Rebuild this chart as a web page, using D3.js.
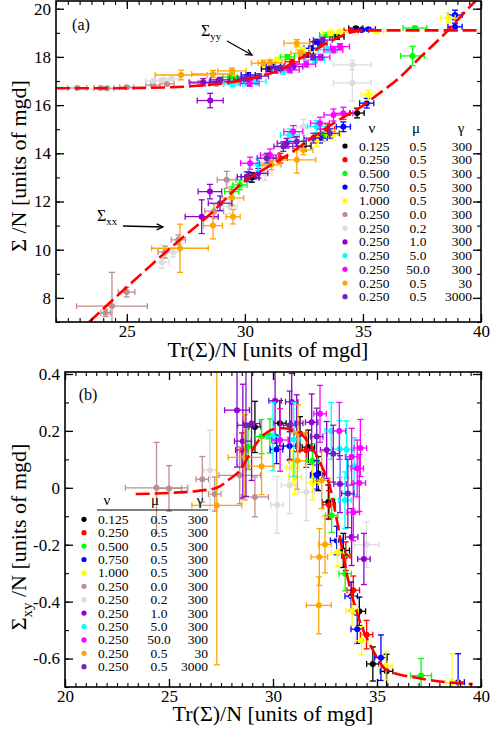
<!DOCTYPE html>
<html>
<head>
<meta charset="utf-8">
<script src="https://cdn.jsdelivr.net/npm/d3@7"></script>
<style>
body { margin: 0; background: #fff; }
text { font-family: "Liberation Serif", "DejaVu Serif", serif; }
</style>
</head>
<body>
<svg id="chart" width="491" height="733"></svg>
<script>
// legend columns, one entry per run
var nuLabels = ["0.125","0.250","0.500","0.750","1.000","0.250","0.250","0.250","0.250","0.250","0.250","0.250"];
var muLabels = ["0.5","0.5","0.5","0.5","0.5","0.0","0.2","1.0","5.0","50.0","0.5","0.5"];
var gammaLabels = ["300","300","300","300","300","300","300","300","300","300","30","3000"];
var seriesColors = ["#000000","#ff0000","#00ff00","#0000ff","#ffff00","#bc8f8f","#dcdcdc","#9400d3","#00ffff","#ff00ff","#ffa500","#7221bc"];

// theory curves [Tr/N, value]
var yyCurve = [[22,16.7],[24,16.7],[26,16.72],[28,16.8],[29,16.9],[30,17.05],[31,17.3],[31.5,17.46],[32,17.75],[32.6,18.08],[33,18.3],[33.5,18.58],[34,18.83],[34.5,19.02],[35,19.09],[36,19.1],[40,19.1]];
var xxCurve = [[23.4,7.0],[25,8.45],[27,10.2],[28.5,11.45],[30,12.85],[31,13.45],[32,14.05],[33,14.75],[34,15.4],[35,15.98],[35.6,16.42],[36.5,17.1],[37.4,17.96],[38.5,19.0],[39.4,19.95],[39.8,20.35]];
var xyCurve = [[23.4,-0.022],[25,-0.018],[26.5,-0.01],[27.3,0],[27.9,0.03],[28.4,0.06],[28.9,0.12],[29.4,0.175],[30.3,0.21],[31.1,0.2],[31.8,0.15],[32.35,0.075],[32.75,0],[33.06,-0.11],[33.54,-0.3],[34.18,-0.47],[34.8,-0.57],[35.46,-0.64],[37.07,-0.67],[39.6,-0.69]];

// simulation points: [series, Tr/N, value, Tr error, value error]
var syyPoints = [
  [5,22.9,16.71,0.4,0.05],[5,23.9,16.71,0.3,0.05],[5,24.15,16.7,0.3,0.05],[5,25.0,16.74,0.3,0.05],[5,26.1,16.83,0.3,0.06],[5,26.7,16.88,0.3,0.06],[5,28.1,16.9,0.4,0.1],[5,28.8,16.9,0.3,0.1],[5,29.4,16.95,0.3,0.1],
  [6,26.1,17.0,0.3,0.05],[6,26.5,17.04,0.3,0.06],[6,26.9,17.1,0.3,0.06],[6,34.55,17.67,0.8,0.2],
  [10,27.3,17.25,1.1,0.2],[10,28.65,17.29,0.9,0.15],[10,29.45,17.42,0.6,0.12],[10,30.78,17.74,0.5,0.12],[10,31.06,17.76,0.5,0.12],[10,32.2,18.57,0.55,0.15],[10,32.35,18.15,0.4,0.12],
  [7,28.53,16.19,0.55,0.3],[7,28.24,16.95,0.6,0.15],[7,28.9,16.98,0.4,0.12],[7,29.93,17.05,0.4,0.12],[7,31.3,17.45,0.4,0.12],[7,32.05,17.6,0.4,0.12],
  [2,29.37,17.16,0.3,0.1],[2,29.7,17.1,0.3,0.08],[2,31.8,18.0,0.3,0.1],[2,33.46,18.91,0.3,0.1],[2,37.2,19.2,0.5,0.06],
  [8,29.5,16.88,0.4,0.12],[8,30.1,16.92,0.4,0.12],[8,30.5,16.98,0.4,0.12],[8,31.6,17.4,0.4,0.12],[8,32.97,17.88,0.4,0.12],[8,33.5,18.3,0.4,0.12],
  [3,30.14,17.25,0.3,0.1],[3,31.2,17.6,0.3,0.1],[3,32.8,18.36,0.3,0.1],[3,33.04,18.63,0.3,0.1],[3,34.95,19.12,0.3,0.06],[3,35.23,19.15,0.3,0.06],[3,38.9,19.74,0.3,0.2],[3,38.9,19.25,0.3,0.15],
  [9,30.2,16.9,0.4,0.12],[9,31.9,17.46,0.4,0.12],[9,32.6,17.7,0.4,0.12],[9,33.2,17.99,0.4,0.12],[9,33.75,18.29,0.4,0.12],[9,34.03,18.43,0.4,0.12],
  [4,31.35,17.88,0.3,0.1],[4,32.46,18.3,0.3,0.1],[4,33.6,18.98,0.3,0.1],[4,34.03,19.05,0.3,0.08],[4,35.58,19.05,0.3,0.06],[4,38.6,19.62,0.3,0.2],
  [0,31.0,17.5,0.3,0.1],[0,32.6,18.08,0.3,0.1],[0,33.9,18.84,0.3,0.1],[0,34.7,19.19,0.3,0.06],
  [1,32.0,17.8,0.3,0.1],[1,33.18,18.57,0.3,0.1],[1,34.5,19.1,0.3,0.06],
  [11,28.95,17.05,0.4,0.1],[11,30.1,17.1,0.4,0.1],[11,30.6,17.2,0.4,0.1],[11,31.5,17.53,0.4,0.1],[11,32.9,18.0,0.4,0.12],[11,33.3,18.7,0.4,0.12]
];
var sxxPoints = [
  [5,24.1,7.38,0.2,0.15],[5,24.37,7.66,1.5,1.4],[5,24.99,8.24,0.35,0.2],[5,26.62,9.9,0.3,0.25],[5,27.18,10.41,0.3,0.2],[5,28.7,11.6,0.4,0.3],[5,29.23,12.9,0.4,0.35],
  [6,26.49,9.48,0.3,0.25],[6,26.96,9.9,0.3,0.2],[6,29.37,11.79,0.3,0.3],[6,30.85,13.17,0.3,0.3],[6,32.48,15.11,0.3,0.3],[6,34.55,16.92,0.8,0.75],
  [10,27.25,10.06,1.2,1.0],[10,28.65,11.0,0.4,0.55],[10,29.45,12.15,0.5,0.3],[10,29.5,11.37,0.3,0.3],[10,31.13,13.52,0.4,0.2],[10,32.2,13.73,0.8,0.55],[10,32.48,14.14,0.4,0.2],
  [7,28.17,11.37,0.7,0.7],[7,28.52,12.41,0.5,0.3],[7,30.57,13.17,0.4,0.2],[7,31.77,14.42,0.4,0.2],
  [2,29.44,12.41,0.3,0.2],[2,29.79,12.69,0.3,0.2],[2,33.3,14.7,0.3,0.2],[2,37.1,18.04,0.5,0.4],
  [3,30.14,13.03,0.3,0.2],[3,33.18,14.63,0.3,0.2],[3,34.17,15.1,0.3,0.2],[3,35.16,16.08,0.3,0.2],
  [9,30.22,13.59,0.4,0.25],[9,31.06,13.93,0.4,0.25],[9,32.05,14.9,0.4,0.25],[9,33.18,15.25,0.4,0.25],[9,33.75,15.59,0.4,0.25],[9,34.17,15.66,0.4,0.25],
  [8,30.57,13.52,0.4,0.25],[8,31.9,14.76,0.4,0.25],[8,33.04,15.11,0.4,0.25],
  [4,33.04,14.49,0.3,0.2],[4,33.75,14.76,0.3,0.2],[4,35.23,16.42,0.3,0.2],
  [0,30.3,13.0,0.3,0.2],[0,32.5,14.3,0.3,0.2],[0,34.75,15.67,0.3,0.2],
  [1,31.5,13.8,0.3,0.2],[1,33.5,15.0,0.3,0.2],
  [11,28.95,11.93,0.5,0.3],[11,30.08,13.03,0.4,0.2],[11,30.92,13.8,0.4,0.2],[11,31.63,14.28,0.4,0.2],[11,32.2,14.49,0.4,0.2],[11,32.9,14.63,0.4,0.2],[11,33.6,14.83,0.4,0.2]
];
var sxyPoints = [
  [5,24.4,0.0,1.5,0.16],[5,25.0,-0.002,0.6,0.08],[5,26.6,0.03,0.3,0.08],[5,27.2,-0.022,0.3,0.06],[5,28.4,0.044,1.0,0.1],[5,29.13,-0.032,0.65,0.07],
  [6,26.97,0.062,0.3,0.14],[6,30.2,-0.06,0.3,0.1],[6,30.8,0.009,0.4,0.1],[6,31.6,-0.015,0.4,0.1],[6,34.5,-0.2,0.6,0.08],
  [10,27.3,-0.062,1.2,0.56],[10,28.65,0.107,0.8,0.15],[10,29.45,0.076,0.6,0.1],[10,31.17,0.095,0.4,0.1],[10,31.2,0.192,0.4,0.1],[10,32.34,0.027,0.4,0.1],[10,32.5,-0.199,0.3,0.1],[10,32.23,-0.243,0.4,0.1],[10,32.2,-0.413,0.6,0.1],
  [7,28.27,0.273,0.6,0.2],[7,28.55,0.164,0.4,0.2],[7,28.97,0.226,0.4,0.2],[7,30.1,0.306,0.3,0.15],[7,30.9,0.302,0.3,0.1],[7,31.14,0.227,0.3,0.1],[7,31.86,0.23,0.3,0.1],[7,32.58,0.133,0.3,0.1],[7,33.22,0.013,0.3,0.1],[7,33.78,-0.173,0.3,0.1],[7,34.37,-0.25,0.3,0.09],
  [0,29.13,0.214,0.3,0.09],[0,30.33,0.227,0.3,0.08],[0,31.3,0.19,0.3,0.06],[0,31.7,0.143,0.3,0.06],[0,32.18,0.05,0.3,0.06],[0,32.66,-0.05,0.3,0.06],[0,33.38,-0.22,0.3,0.06],[0,34.15,-0.434,0.3,0.05],[0,34.8,-0.619,0.3,0.06],[0,35.46,-0.645,0.3,0.06],
  [1,28.5,0.133,0.3,0.06],[1,31.6,0.132,0.3,0.06],[1,32.7,-0.06,0.3,0.05],[1,33.5,-0.24,0.2,0.05],[1,33.86,-0.36,0.3,0.05],[1,34.5,-0.516,0.3,0.05],
  [2,28.8,0.144,0.3,0.08],[2,29.45,0.18,0.3,0.06],[2,29.85,0.182,0.3,0.06],[2,31.9,0.095,0.3,0.06],[2,32.82,-0.097,0.3,0.06],[2,33.47,-0.302,0.3,0.06],[2,37.12,-0.66,0.5,0.06],
  [3,30.17,0.135,0.3,0.05],[3,30.8,0.147,0.3,0.05],[3,32.1,0.045,0.3,0.05],[3,33.06,-0.185,0.3,0.05],[3,33.76,-0.381,0.3,0.05],[3,34.05,-0.497,0.3,0.05],[3,35.19,-0.597,0.3,0.08],[3,38.9,-0.683,0.3,0.1],
  [4,30.95,0.071,0.3,0.06],[4,31.06,0.037,0.3,0.06],[4,31.9,0.018,0.3,0.06],[4,33.1,-0.226,0.3,0.05],[4,33.8,-0.433,0.3,0.05],[4,34.26,-0.537,0.3,0.05],[4,35.43,-0.625,0.3,0.05],[4,38.6,-0.683,0.3,0.1],
  [8,30.0,0.18,0.3,0.12],[8,31.0,0.17,0.3,0.13],[8,32.8,0.2,0.3,0.1],[8,33.2,0.136,0.3,0.1],[8,33.54,0.135,0.3,0.1],[8,33.9,0.076,0.3,0.1],[8,33.46,-0.044,0.3,0.1],
  [9,30.34,0.168,0.4,0.11],[9,32.26,0.26,0.3,0.1],[9,33.19,0.2,0.3,0.1],[9,33.78,0.109,0.3,0.1],[9,34.05,0.068,0.3,0.1],[9,34.2,0.14,0.3,0.1],[9,34.15,0.017,0.3,0.1],[9,33.86,-0.086,0.3,0.1],
  [11,28.7,0.22,0.4,0.25],[11,30.8,0.22,0.3,0.12],[11,32.1,0.18,0.3,0.1],[11,32.9,0.12,0.3,0.1],[11,33.6,-0.02,0.3,0.12]
];

var xTicksA = [25, 30, 35, 40];
var yTicksA = [8, 10, 12, 14, 16, 18, 20];
var xTicksB = [20, 25, 30, 35, 40];
var yTicksB = [-0.6, -0.4, -0.2, 0, 0.2, 0.4];

var svg = d3.select("#chart");
var serif = "Liberation Serif";

var xA = d3.scaleLinear().domain([22, 40]).range([56, 481]);
var yA = d3.scaleLinear().domain([7, 20.32]).range([322, 1]);
var xB = d3.scaleLinear().domain([20, 40]).range([65, 481]);
var yB = d3.scaleLinear().domain([-0.7, 0.407]).range([687, 372]);

function makeAxis(side, s) {
  if (side == "bottom") return d3.axisBottom(s);
  if (side == "top") return d3.axisTop(s);
  if (side == "left") return d3.axisLeft(s);
  return d3.axisRight(s);
}

// frame + inward ticks on all four sides
function drawFrame(x, y, xMajor, xMinor, yMajor, yMinor, yFmt, xFmt) {
  var x0 = x.range()[0], x1 = x.range()[1], y1 = y.range()[0], y0 = y.range()[1];
  var sides = [
    ["bottom", x, "translate(0," + y1 + ")", xMajor, xMinor, xFmt],
    ["top", x, "translate(0," + y0 + ")", xMajor, xMinor, null],
    ["left", y, "translate(" + x0 + ",0)", yMajor, yMinor, yFmt],
    ["right", y, "translate(" + x1 + ",0)", yMajor, yMinor, null]
  ];
  sides.forEach(function(sd) {
    var gMin = svg.append("g").attr("transform", sd[2])
      .call(makeAxis(sd[0], sd[1]).tickValues(sd[4]).tickSize(-4).tickFormat(""));
    gMin.select(".domain").remove();
    var gMaj = svg.append("g").attr("transform", sd[2])
      .call(makeAxis(sd[0], sd[1]).tickValues(sd[3]).tickSize(-8).tickPadding(sd[0] == "bottom" ? 3 : 5)
        .tickFormat(sd[5] ? sd[5] : ""));
    gMaj.select(".domain").remove();
    gMaj.attr("font-family", serif).attr("font-size", 17);
    gMaj.selectAll("line").attr("stroke-width", 1.3);
    gMin.selectAll("line").attr("stroke-width", 1.1);
  });
  svg.append("rect").attr("x", x0).attr("y", y0).attr("width", x1 - x0).attr("height", y1 - y0)
    .attr("fill", "none").attr("stroke", "#000").attr("stroke-width", 1.6);
}

function clipFor(id, x, y) {
  svg.append("clipPath").attr("id", id).append("rect")
    .attr("x", x.range()[0]).attr("y", y.range()[1])
    .attr("width", x.range()[1] - x.range()[0]).attr("height", y.range()[0] - y.range()[1]);
}

function drawPoints(g, pts, x, y) {
  var cap = 3;
  d3.range(12).forEach(function(si) {
    var sub = pts.filter(function(p) { return p[0] == si; });
    var col = seriesColors[si];
    sub.forEach(function(p) {
      var cx = x(p[1]), cy = y(p[2]);
      var xl = x(p[1] - p[3]), xr = x(p[1] + p[3]);
      var yt = y(p[2] + p[4]), yb = y(p[2] - p[4]);
      var e = g.append("g").attr("stroke", col).attr("stroke-width", 1.3);
      e.append("line").attr("x1", xl).attr("x2", xr).attr("y1", cy).attr("y2", cy);
      e.append("line").attr("x1", xl).attr("x2", xl).attr("y1", cy - cap).attr("y2", cy + cap);
      e.append("line").attr("x1", xr).attr("x2", xr).attr("y1", cy - cap).attr("y2", cy + cap);
      e.append("line").attr("x1", cx).attr("x2", cx).attr("y1", yt).attr("y2", yb);
      e.append("line").attr("x1", cx - cap).attr("x2", cx + cap).attr("y1", yt).attr("y2", yt);
      e.append("line").attr("x1", cx - cap).attr("x2", cx + cap).attr("y1", yb).attr("y2", yb);
    });
    g.selectAll(null).data(sub).enter().append("circle")
      .attr("cx", function(p) { return x(p[1]); })
      .attr("cy", function(p) { return y(p[2]); })
      .attr("r", 3).attr("fill", col);
  });
}

function drawCurve(g, data, x, y) {
  var line = d3.line().x(function(d) { return x(d[0]); }).y(function(d) { return y(d[1]); })
    .curve(d3.curveMonotoneX);
  g.append("path").datum(data).attr("d", line).attr("fill", "none")
    .attr("stroke", "#ff0000").attr("stroke-width", 2.6).attr("stroke-dasharray", "14,5");
}

function drawLegend(o) {
  var lg = svg.append("g").attr("font-family", serif);
  [["\u03bd", o.hx[0]], ["\u03bc", o.hx[1]], ["\u03b3", o.hx[2]]].forEach(function(h) {
    lg.append("text").attr("x", h[1]).attr("y", o.hy).attr("text-anchor", "middle")
      .attr("dominant-baseline", "central").attr("font-size", 15).text(h[0]);
  });
  if (o.rule) {
    lg.append("line").attr("x1", o.rule[0]).attr("x2", o.rule[1]).attr("y1", o.rule[2]).attr("y2", o.rule[2])
      .attr("stroke", "#000").attr("stroke-width", 1.1);
  }
  nuLabels.forEach(function(nu, i) {
    var ry = o.y0 + i * o.dy;
    lg.append("circle").attr("cx", o.dot).attr("cy", ry).attr("r", 2.6).attr("fill", seriesColors[i]);
    lg.append("text").attr("x", o.nu).attr("y", ry).attr("dominant-baseline", "central")
      .attr("font-size", 13.5).text(nu);
    lg.append("text").attr("x", o.mu).attr("y", ry).attr("text-anchor", "middle").attr("dominant-baseline", "central")
      .attr("font-size", 13.5).text(muLabels[i]);
    lg.append("text").attr("x", o.gam).attr("y", ry).attr("text-anchor", "end").attr("dominant-baseline", "central")
      .attr("font-size", 13.5).text(gammaLabels[i]);
  });
}

function minusFmt(d) {
  if (d == 0) return "0";
  return (d < 0 ? "-" : "") + Math.abs(d).toFixed(1);
}

// ---- panel (a)
clipFor("clipA", xA, yA);
var gA = svg.append("g").attr("clip-path", "url(#clipA)");
drawPoints(gA, syyPoints, xA, yA);
drawPoints(gA, sxxPoints, xA, yA);
drawCurve(gA, yyCurve, xA, yA);
drawCurve(gA, xxCurve, xA, yA);
drawFrame(xA, yA, xTicksA, d3.range(22, 40.01, 0.5), yTicksA, d3.range(7, 20.5, 1), d3.format("d"), d3.format("d"));

// ---- panel (b)
clipFor("clipB", xB, yB);
var gB = svg.append("g").attr("clip-path", "url(#clipB)");
drawPoints(gB, sxyPoints, xB, yB);
drawCurve(gB, xyCurve, xB, yB);
drawFrame(xB, yB, xTicksB, d3.range(20, 40.01, 0.5), yTicksB, d3.range(-7, 5).map(function(d) { return d / 10; }), minusFmt, d3.format("d"));

drawLegend({hx: [372, 416, 461], hy: 128, y0: 146, dy: 13.7, dot: 345, nu: 359, mu: 418, gam: 472});
drawLegend({hx: [107, 155, 200], hy: 500, rule: [97, 208, 510], y0: 519.3, dy: 13.4, dot: 84, nu: 98, mu: 159, gam: 208});

// ---- labels
svg.append("text").attr("x", 81).attr("y", 24).attr("text-anchor", "middle").attr("dominant-baseline", "central")
  .attr("font-size", 16).text("(a)");
svg.append("text").attr("x", 88).attr("y", 394).attr("text-anchor", "middle").attr("dominant-baseline", "central")
  .attr("font-size", 16).text("(b)");

function sigmaLabel(x, y, sub, rest, big, small, rotate) {
  var t = svg.append("text").attr("font-size", big);
  if (rotate) t.attr("transform", "translate(" + x + "," + y + ") rotate(-90)").attr("text-anchor", "middle");
  else t.attr("x", x).attr("y", y);
  t.append("tspan").text("\u03a3");
  if (sub) t.append("tspan").attr("font-size", small).attr("dy", big * 0.25).text(sub);
  if (rest) t.append("tspan").attr("dy", sub ? -big * 0.25 : 0).text(rest);
  return t;
}

sigmaLabel(26, 166, "", " /N [units of mgd]", 22, 15, true);
sigmaLabel(26, 537, "xy", " /N [units of mgd]", 22, 15, true);
svg.append("text").attr("x", 268).attr("y", 357).attr("text-anchor", "middle").attr("font-size", 22)
  .text("Tr(\u03a3)/N [units of mgd]");
svg.append("text").attr("x", 273).attr("y", 721).attr("text-anchor", "middle").attr("font-size", 22)
  .text("Tr(\u03a3)/N [units of mgd]");

sigmaLabel(201, 36, "yy", "", 16, 11, false);
sigmaLabel(97, 221, "xx", "", 16, 11, false);

function arrow(x1, y1, x2, y2) {
  svg.append("line").attr("x1", x1).attr("y1", y1).attr("x2", x2).attr("y2", y2)
    .attr("stroke", "#000").attr("stroke-width", 1.3);
  var a = Math.atan2(y2 - y1, x2 - x1), L = 7, w = 0.45;
  var p = [[x2 - L * Math.cos(a - w), y2 - L * Math.sin(a - w)], [x2, y2], [x2 - L * Math.cos(a + w), y2 - L * Math.sin(a + w)]];
  svg.append("path").attr("d", d3.line()(p)).attr("fill", "none").attr("stroke", "#000").attr("stroke-width", 1.3);
}
arrow(227, 41, 252, 55);
arrow(123, 226, 163, 227);
</script>
</body>
</html>
